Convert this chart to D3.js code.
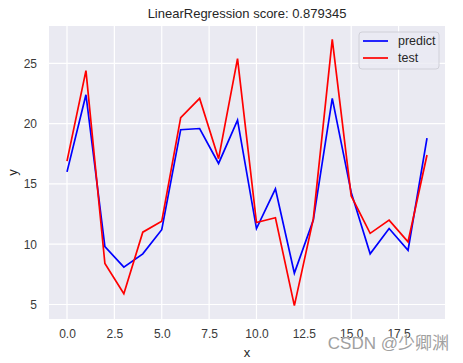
<!DOCTYPE html>
<html>
<head>
<meta charset="utf-8">
<script src="https://cdn.jsdelivr.net/npm/d3@7"></script>
<style>
  body { margin: 0; background: #fff; }
  text { font-family: "Liberation Sans", Arial, sans-serif; }
</style>
</head>
<body>
<div id="chart"></div>
<script>
// values
let xs = d3.range(20)
let predict = [16.0, 22.4, 9.8, 8.1, 9.2, 11.2, 19.5, 19.6, 16.7, 20.3,
    11.3, 14.6, 7.6, 12.0, 22.1, 14.3, 9.2, 11.3, 9.5, 18.8]
let test = [16.9, 24.4, 8.4, 5.9, 11.0, 11.9, 20.5, 22.1, 17.1, 25.4,
    11.8, 12.2, 4.9, 12.1, 27.0, 14.0, 10.9, 12.0, 10.2, 17.4]
let xTicks = [0, 2.5, 5, 7.5, 10, 12.5, 15, 17.5]
let yTicks = [5, 10, 15, 20, 25]

let width = 463
let height = 363
var margin = { top: 26, right: 18, bottom: 44, left: 49 }
let w = width - margin.left - margin.right
let h = height - margin.top - margin.bottom

var svg = d3.select("#chart")
    .append("svg")
    .attr("width", width)
    .attr("height", height)

var g = svg.append("g")
    .attr("transform", "translate(" + margin.left + "," + margin.top + ")")

// matplotlib style 5% margins
let allY = predict.concat(test)
let yMin = d3.min(allY), yMax = d3.max(allY)
let yPad = (yMax - yMin) * 0.05
var x = d3.scaleLinear().domain([-0.95, 19.95]).range([0, w])
var y = d3.scaleLinear().domain([yMin - yPad, yMax + yPad]).range([h, 0])

g.append("rect")
    .attr("width", w)
    .attr("height", h)
    .attr("fill", "#eaeaf2")

// grid
g.selectAll(".vgrid")
    .data(xTicks)
    .enter()
    .append("line")
    .attr("x1", d => x(d)).attr("x2", d => x(d))
    .attr("y1", 0).attr("y2", h)
    .attr("stroke", "#fff").attr("stroke-width", 1.2)

g.selectAll(".hgrid")
    .data(yTicks)
    .enter()
    .append("line")
    .attr("y1", d => y(d)).attr("y2", d => y(d))
    .attr("x1", 0).attr("x2", w)
    .attr("stroke", "#fff").attr("stroke-width", 1.2)

// axes (labels only, seaborn darkgrid has no spines)
var xAxis = g.append("g")
    .attr("transform", "translate(0," + h + ")")
    .call(d3.axisBottom(x).tickValues(xTicks).tickFormat(d3.format(".1f")).tickSize(0).tickPadding(10))
var yAxis = g.append("g")
    .call(d3.axisLeft(y).tickValues(yTicks).tickSize(0).tickPadding(12))
xAxis.select(".domain").remove()
yAxis.select(".domain").remove()
svg.selectAll(".tick text")
    .style("font-size", "12px")
    .style("font-family", "'Liberation Sans', Arial, sans-serif")
    .attr("fill", "#3a3a3a")

var line = d3.line()
    .x((d, i) => x(xs[i]))
    .y(d => y(d))

g.append("path")
    .datum(predict)
    .attr("d", line)
    .attr("fill", "none")
    .attr("stroke", "blue")
    .attr("stroke-width", 1.7)

g.append("path")
    .datum(test)
    .attr("d", line)
    .attr("fill", "none")
    .attr("stroke", "red")
    .attr("stroke-width", 1.7)

// title and axis labels
svg.append("text")
    .attr("x", margin.left + w / 2)
    .attr("y", 18)
    .attr("text-anchor", "middle")
    .style("font-size", "13px")
    .attr("fill", "#262626")
    .text("LinearRegression score: 0.879345")

svg.append("text")
    .attr("x", margin.left + w / 2)
    .attr("y", 357)
    .attr("text-anchor", "middle")
    .style("font-size", "13px")
    .attr("fill", "#262626")
    .text("x")

svg.append("text")
    .attr("transform", "translate(17," + (margin.top + h / 2) + ") rotate(-90)")
    .attr("text-anchor", "middle")
    .style("font-size", "13px")
    .attr("fill", "#262626")
    .text("y")

// legend
let series = [{ name: "predict", color: "blue" }, { name: "test", color: "red" }]
var legend = svg.append("g").attr("transform", "translate(359,32)")
legend.append("rect")
    .attr("width", 80).attr("height", 37).attr("rx", 3)
    .attr("fill", "#eaeaf2").attr("fill-opacity", 0.8)
    .attr("stroke", "#d0d0d8")
legend.selectAll(".item")
    .data(series)
    .enter()
    .append("line")
    .attr("x1", 4).attr("x2", 29)
    .attr("y1", (d, i) => 9 + i * 17).attr("y2", (d, i) => 9 + i * 17)
    .attr("stroke", d => d.color).attr("stroke-width", 1.7)
legend.selectAll(".label")
    .data(series)
    .enter()
    .append("text")
    .attr("x", 39)
    .attr("y", (d, i) => 13 + i * 17)
    .style("font-size", "12.5px")
    .attr("fill", "#262626")
    .text(d => d.name)

// watermark
svg.append("text")
    .attr("x", 449)
    .attr("y", 349)
    .attr("text-anchor", "end")
    .style("font-size", "17px")
    .style("font-family", "'Liberation Sans', 'Noto Sans CJK SC', sans-serif")
    .attr("fill", "#a0a0a0")
    .attr("stroke", "#fff")
    .attr("stroke-width", 0.6)
    .attr("paint-order", "stroke")
    .text("CSDN @少卿渊")
</script>
</body>
</html>
